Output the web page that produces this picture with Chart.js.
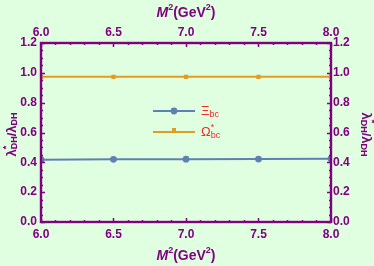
<!DOCTYPE html>
<html>
<head>
<meta charset="utf-8">
<script src="https://cdn.jsdelivr.net/npm/chart.js@4"></script>
<style>
body{margin:0;background:#e0ffe0}
canvas{display:block}
</style>
</head>
<body>
<canvas id="chart" width="374" height="266"></canvas>
<script>
// data
const massSq=[6.0,6.5,7.0,7.5,8.0]
const xiBc=[0.418,0.420,0.421,0.422,0.424]
const omegaBc=[0.973,0.973,0.973,0.973,0.973]
const xTicks=[6.0,6.5,7.0,7.5,8.0]
const yTicks=[0.0,0.2,0.4,0.6,0.8,1.0,1.2]

const purple="#800080"
const blue="#5e81b5"
const orange="#e19c24"
const red="#ee2a2a"
const bg="#e0ffe0"

function pts(ys){return massSq.map((x,i)=>({x:x,y:ys[i]}))}

// draws text pieces: [text, font, dy, noAdvance]
function drawRich(ctx,parts,x,y){
let cx=x
parts.forEach(p=>{
ctx.font=p[1]
ctx.fillText(p[0],cx,y+(p[2]||0))
if(!p[3]) cx+=ctx.measureText(p[0]).width
})
return cx
}
function richWidth(ctx,parts){
let w=0
parts.forEach(p=>{ctx.font=p[1];if(!p[3]) w+=ctx.measureText(p[0]).width})
return w
}

const big="bold 13px 'Liberation Sans', Arial, sans-serif"
const small="bold 9px 'Liberation Sans', Arial, sans-serif"
const yTitle=[["λ",big,0],["*",small,-5,true],["DH",small,3],["/λ",big,0],["DH",small,3]]

const decor={
id:"decor",
beforeDraw(chart){
let c=chart.ctx
c.save()
c.fillStyle=bg
c.fillRect(0,0,chart.width,chart.height)
c.restore()
},
afterDatasetsDraw(chart){
let c=chart.ctx
let a=chart.chartArea
let xs=chart.scales.x, ys=chart.scales.y
c.save()
c.strokeStyle=purple
c.lineWidth=1.5
// minor/major ticks inward
for(let v=6;v<=8.001;v+=0.1){
let px=Math.round(xs.getPixelForValue(v))+0.5
let major=Math.abs(v*2-Math.round(v*2))<0.01
let len=major?4:2
c.beginPath()
c.moveTo(px,a.bottom);c.lineTo(px,a.bottom-len)
c.moveTo(px,a.top);c.lineTo(px,a.top+len)
c.stroke()
}
for(let v=0;v<=1.2001;v+=0.05){
let py=Math.round(ys.getPixelForValue(v))+0.5
let major=Math.abs(v*5-Math.round(v*5))<0.01
let len=major?4:2
c.beginPath()
c.moveTo(a.left,py);c.lineTo(a.left+len,py)
c.moveTo(a.right,py);c.lineTo(a.right-len,py)
c.stroke()
}
c.lineWidth=2.4
c.strokeRect(a.left,a.top,a.right-a.left,a.bottom-a.top)

// axis titles
c.fillStyle=purple
c.textBaseline="middle"
let tf="bold 14px 'Liberation Sans', Arial, sans-serif"
let xt=[["M","italic "+tf,0],["2",small,-5],["(GeV",tf,0],["2",small,-5],[")",tf,0]]
let w=richWidth(c,xt)
let cxm=(a.left+a.right)/2
drawRich(c,xt,cxm-w/2,13)
drawRich(c,xt,cxm-w/2,256)

let yw=richWidth(c,yTitle)
let cym=(a.top+a.bottom)/2
c.save()
c.translate(12,cym+2)
c.rotate(-Math.PI/2)
drawRich(c,yTitle,-yw/2,0)
c.restore()
c.save()
c.translate(366,cym+2)
c.rotate(Math.PI/2)
drawRich(c,yTitle,-yw/2,0)
c.restore()

// legend
let ds=chart.data.datasets
let lx0=153,lx1=195,ly=[111,132]
ds.forEach((d,i)=>{
c.strokeStyle=d.borderColor
c.lineWidth=2
c.beginPath();c.moveTo(lx0,ly[i]);c.lineTo(lx1,ly[i]);c.stroke()
c.fillStyle=d.borderColor
if(d.pointStyle==="rect") c.fillRect(172,ly[i]-4,4,4)
else{c.beginPath();c.arc(174,ly[i],3.4,0,Math.PI*2);c.fill()}
c.fillStyle=red
c.textBaseline="middle"
drawRich(c,d.richLabel,201,ly[i])
})
c.restore()
}
}

new Chart(document.getElementById("chart"),{
type:"line",
data:{datasets:[
{label:"Ξbc",richLabel:[["Ξ","13px 'Liberation Sans', Arial, sans-serif",0],["bc","9px 'Liberation Sans', Arial, sans-serif",4]],data:pts(xiBc),borderColor:blue,backgroundColor:blue,borderWidth:2,pointRadius:3.4,pointStyle:"circle",pointBorderWidth:0},
{label:"Ω*bc",richLabel:[["Ω","13px 'Liberation Sans', Arial, sans-serif",0],["*","9px 'Liberation Sans', Arial, sans-serif",-4,true],["bc","9px 'Liberation Sans', Arial, sans-serif",4]],data:pts(omegaBc),borderColor:orange,backgroundColor:orange,borderWidth:2,pointRadius:3,pointStyle:"rect",pointBorderWidth:0}
]},
options:{
responsive:false,
animation:false,
layout:{padding:0},
plugins:{legend:{display:false},tooltip:{enabled:false}},
scales:{
x:{type:"linear",position:"bottom",min:6,max:8,
afterBuildTicks:s=>{s.ticks=xTicks.map(v=>({value:v}))},
afterFit:s=>{s.height=44},
grid:{display:false,drawTicks:false},border:{display:false},
ticks:{autoSkip:false,maxRotation:0,padding:5,color:purple,font:{family:"'Liberation Sans', Arial",size:12,weight:"bold"},callback:v=>v.toFixed(1)}},
x2:{type:"linear",position:"top",min:6,max:8,
afterBuildTicks:s=>{s.ticks=xTicks.map(v=>({value:v}))},
afterFit:s=>{s.height=43},
grid:{display:false,drawTicks:false},border:{display:false},
ticks:{autoSkip:false,maxRotation:0,padding:3,color:purple,font:{family:"'Liberation Sans', Arial",size:12,weight:"bold"},callback:v=>v.toFixed(1)}},
y:{type:"linear",position:"left",min:0,max:1.2,
afterBuildTicks:s=>{s.ticks=yTicks.map(v=>({value:v}))},
afterFit:s=>{s.width=41},
grid:{display:false,drawTicks:false},border:{display:false},
ticks:{autoSkip:false,padding:4,color:purple,font:{family:"'Liberation Sans', Arial",size:12,weight:"bold"},callback:v=>v.toFixed(1)}},
y2:{type:"linear",position:"right",min:0,max:1.2,
afterBuildTicks:s=>{s.ticks=yTicks.map(v=>({value:v}))},
afterFit:s=>{s.width=43},
grid:{display:false,drawTicks:false},border:{display:false},
ticks:{autoSkip:false,padding:2,color:purple,font:{family:"'Liberation Sans', Arial",size:12,weight:"bold"},callback:v=>v.toFixed(1)}}
}
},
plugins:[decor]
})
</script>
</body>
</html>
